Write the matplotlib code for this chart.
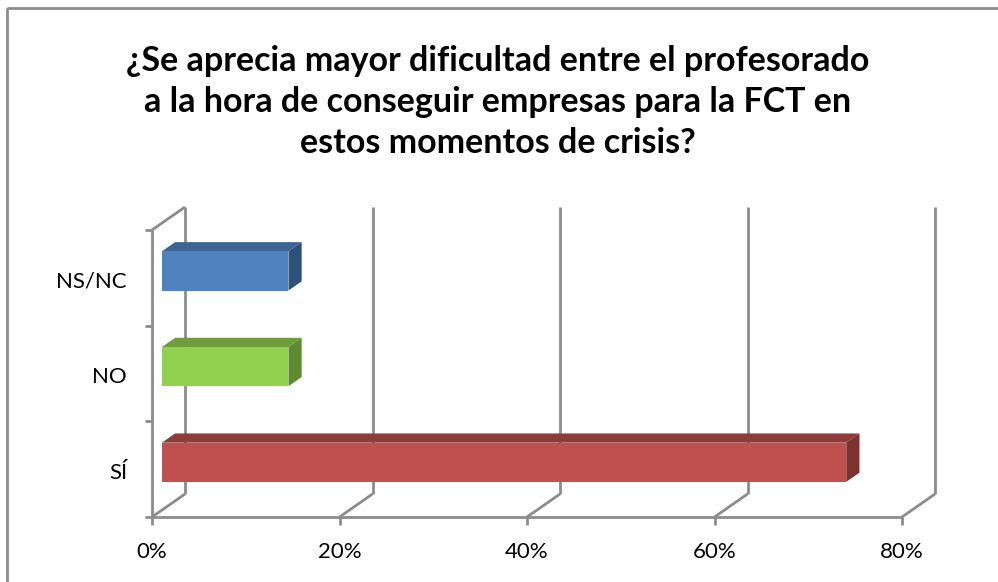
import matplotlib
matplotlib.use('Agg')
import matplotlib.pyplot as plt
from matplotlib.patches import Polygon, Rectangle

plt.rcParams['font.family'] = ['Lato', 'DejaVu Sans']

# data
categories = ['SÍ', 'NO', 'NS/NC']
values = [73.0, 13.5, 13.5]
x_ticks = [0, 20, 40, 60, 80]
x_labels = ['0%', '20%', '40%', '60%', '80%']
title = ('¿Se aprecia mayor dificultad entre el profesorado\n'
         'a la hora de conseguir empresas para la FCT en\n'
         'estos momentos de crisis?')

# styles
front_colors = ['#C0504D', '#92D050', '#4F81BD']
top_colors = ['#8E3B39', '#6E9E3C', '#3D6594']
side_colors = ['#7D3230', '#5E8A30', '#2F5078']
grid_color = '#8C8C8C'

W, H, DPI = 998, 582, 100
fig = plt.figure(figsize=(W / DPI, H / DPI), dpi=DPI)

# chart frame
deco = fig.add_axes([0, 0, 1, 1])
deco.set_xlim(0, W)
deco.set_ylim(H, 0)
deco.axis('off')
deco.add_patch(Rectangle((7, 8), W + 20, H + 20, fill=False, ec='#8C8C8C', lw=2))

# main plotting area (front floor plane)
left, right, bottom, top = 152, 902, 517, 230
ax = fig.add_axes([left / W, (H - bottom) / H, (right - left) / W, (bottom - top) / H])
ax.set_xlim(0, 80)
ax.set_ylim(0, len(categories))
ax.axis('off')
ax.set_zorder(2)

# depth offsets: pixels -> data units
px_x = 80 / (right - left)
px_y = len(categories) / (bottom - top)
dx, dy = 33 * px_x, 23 * px_y

kw = dict(clip_on=False, lw=2, color=grid_color, solid_capstyle='butt')
# back wall gridlines + floor diagonals
for t in x_ticks:
    ax.plot([t, t + dx], [0, dy], **kw)
    ax.plot([t + dx, t + dx], [dy, len(categories) + dy], **kw)
    ax.plot([t, t], [0, -8 * px_y], **kw)
# floor front line and left wall
ax.plot([0, 80], [0, 0], **kw)
ax.plot([0, 0], [0, len(categories)], **kw)
ax.plot([0, dx], [len(categories), len(categories) + dy], **kw)
for i in range(len(categories) + 1):
    ax.plot([0, -7 * px_x], [i, i], **kw)

# 3d bars
bar_h = 0.41
d0, d1 = 0.3, 0.7
for i, (v, fc, tc, sc) in enumerate(zip(values, front_colors, top_colors, side_colors)):
    x0 = d0 * dx
    y0 = i + 0.5 - bar_h / 2 + d0 * dy
    ddx, ddy = (d1 - d0) * dx, (d1 - d0) * dy
    x1, y1 = x0 + v, y0 + bar_h
    ax.add_patch(Polygon([(x0, y1), (x1, y1), (x1 + ddx, y1 + ddy), (x0 + ddx, y1 + ddy)],
                         closed=True, fc=tc, ec='none', clip_on=False, zorder=5))
    ax.add_patch(Polygon([(x1, y0), (x1 + ddx, y0 + ddy), (x1 + ddx, y1 + ddy), (x1, y1)],
                         closed=True, fc=sc, ec='none', clip_on=False, zorder=5))
    ax.add_patch(Rectangle((x0, y0), v, bar_h, fc=fc, ec='none', clip_on=False, zorder=6))

# labels
for i, c in enumerate(categories):
    ax.text(-25 * px_x, i + 0.5 - 0.04, c, ha='right', va='center', fontsize=16)
for t, lab in zip(x_ticks, x_labels):
    ax.text(t, -35 * px_y, lab, ha='center', va='center', fontsize=16)

fig.text(0.4985, 1 - 102 / H, title, ha='center', va='center', fontsize=24.5,
         fontweight='bold', linespacing=1.35)

fig.savefig('out.png', dpi=DPI)
